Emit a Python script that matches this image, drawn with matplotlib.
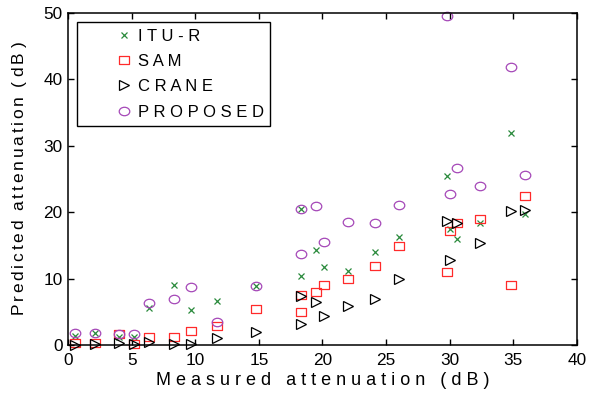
import numpy as np
from matplotlib import pyplot as plt
from matplotlib.path import Path

plt.rcParams['font.family'] = ['Liberation Sans', 'DejaVu Sans']
plt.rcParams['mathtext.fontset'] = 'custom'
plt.rcParams['mathtext.rm'] = 'Liberation Sans'

# measured attenuation (dB), one entry per link
measured = [0.55, 2.1, 4.0, 5.2, 6.4, 8.3, 9.7, 11.7, 14.8, 18.3, 18.3,
            19.5, 20.1, 22.0, 24.1, 26.0, 29.8, 30.0, 30.6, 32.4, 34.8, 35.9]

# predicted attenuation (dB) by each model
itu_r = [1.4, 1.75, 1.15, 1.25, 5.5, 9.0, 5.2, 6.7, 8.9, 20.5, 10.4,
         14.3, 11.8, 11.1, 14.0, 16.2, 25.5, 17.5, 15.9, 18.4, 32.0, 19.7]
sam = [0.25, 0.25, 1.6, 0.15, 1.15, 1.15, 2.1, 2.8, 5.4, 7.5, 5.0,
       8.0, 9.1, 9.9, 11.9, 14.9, 11.0, 17.2, 18.4, 19.0, 9.1, 22.4]
crane = [0.0, 0.1, 0.35, 0.1, 0.5, 0.15, 0.15, 1.0, 2.0, 7.4, 3.2,
         6.4, 4.4, 5.9, 6.9, 10.0, 18.7, 12.8, 18.3, 15.3, 20.2, 20.3]
proposed = [1.75, 1.75, 1.65, 1.65, 6.3, 7.0, 8.7, 3.4, 8.9, 20.5, 13.7,
            21.0, 15.5, 18.5, 18.4, 21.1, 49.6, 22.8, 26.7, 24.0, 41.9, 25.6]

labels = ["I T U - R", "S A M", "C R A N E", "P R O P O S E D"]

# slightly flattened circle / square markers
circ = Path.unit_circle()
ellipse = Path(circ.vertices * [1.0, 0.8], circ.codes)
box = Path([(-1, -0.8), (1, -0.8), (1, 0.8), (-1, 0.8), (-1, -0.8)],
           [Path.MOVETO, Path.LINETO, Path.LINETO, Path.LINETO, Path.CLOSEPOLY])

fig = plt.figure(figsize=(5.89, 3.94), dpi=100)
ax = fig.add_axes([0.1154, 0.1244, 0.8642, 0.8426])

ax.plot(measured, itu_r, 'x', color='#2a8a3c', ms=3.8, mew=0.9,
        label=labels[0], clip_on=False)
ax.plot(measured, sam, ls='none', marker=box, mfc='none', mec='#ff2a2a',
        ms=7.4, mew=0.9, label=labels[1], clip_on=False)
ax.plot(measured, crane, ls='none', marker='>', mfc='none', mec='black',
        ms=6.8, mew=0.9, label=labels[2], clip_on=False)
ax.plot(measured, proposed, ls='none', marker=ellipse, mfc='none', mec='#a548b8',
        ms=7.6, mew=0.9, label=labels[3], clip_on=False)

ax.set_xlim(0, 40)
ax.set_ylim(0, 50)
ax.set_xticks(np.arange(0, 41, 5))
ax.set_yticks(np.arange(0, 51, 10))
ax.tick_params(direction='in', top=True, right=True, length=4, width=1,
               labelsize=12.4)
ax.tick_params(axis='x', pad=6)
ax.tick_params(axis='y', pad=4)
for s in ax.spines.values():
    s.set_linewidth(1.1)


def spaced(word):
    # thin gaps between the letters of one word
    return r'\,'.join(word)


ylab = (r'$\mathrm{' + spaced('Predicted') + r'\;\;' + spaced('attenuation')
        + r'\;\;(\;' + spaced('dB') + r'\;)}$')
ax.set_xlabel("M e a s u r e d   a t t e n u a t i o n   ( d B )",
              fontsize=13, labelpad=3)
ax.set_ylabel(ylab, fontsize=12.5, labelpad=10)

leg = ax.legend(loc='upper left', bbox_to_anchor=(0.0177, 0.973),
                borderaxespad=0, fontsize=12, numpoints=1,
                handlelength=4.8, handletextpad=-1.55, borderpad=0.4,
                labelspacing=0.62, fancybox=False, edgecolor='black',
                framealpha=1)
leg.get_frame().set_linewidth(1.0)

plt.savefig("out.png", dpi=100)
